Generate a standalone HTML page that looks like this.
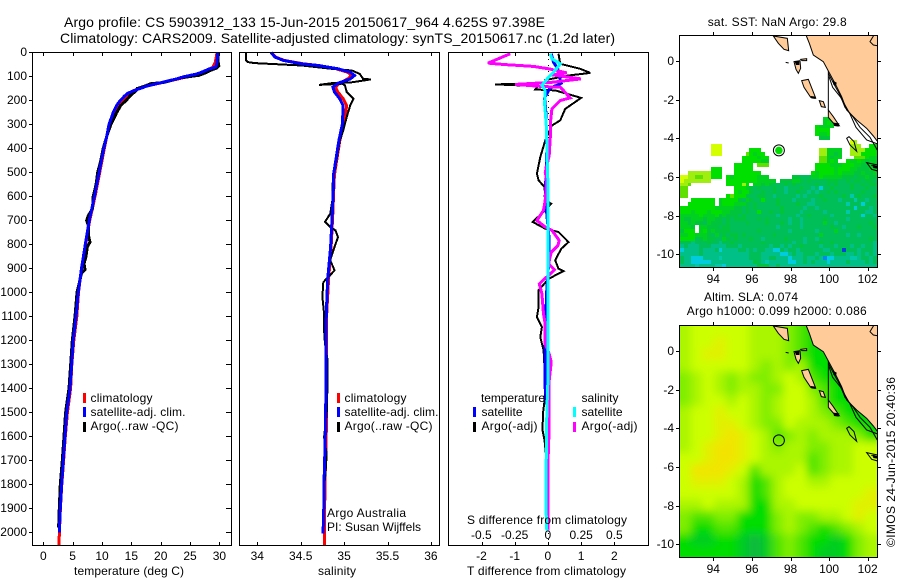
<!DOCTYPE html>
<html lang="en">
<head>
<meta charset="utf-8">
<title>Argo profile CS 5903912_133</title>
<style>
html,body{margin:0;padding:0;background:#fff;}
svg{display:block;}
text{font-family:"Liberation Sans",sans-serif;fill:#000;font-size:12px;}
.title{font-size:14px;}
.frame{fill:none;stroke:#000;stroke-width:1;shape-rendering:crispEdges;}
.tick{stroke:#000;stroke-width:1;shape-rendering:crispEdges;}
.land{fill:#ffcc99;stroke:#000;stroke-width:3;}
.contour{fill:none;stroke:#000;stroke-width:3;}
.blob{fill:#000;stroke:none;}
.bar{shape-rendering:crispEdges;}
</style>
</head>
<body>
<svg id="chart" xmlns="http://www.w3.org/2000/svg" width="900" height="580" viewBox="0 0 900 580">
<defs>
<clipPath id="clip-sst"><rect x="679.5" y="35.5" width="198" height="232"/></clipPath>
<clipPath id="clip-sla"><rect x="679.5" y="325.5" width="198" height="232"/></clipPath>
<filter id="smooth" x="-10%" y="-10%" width="120%" height="120%"><feGaussianBlur stdDeviation="4.5"/></filter>
<g id="coast-shapes" transform="translate(650 10) scale(0.33333)">
<path class="land" d="M468 75L478 100L490 135L520 155L535 183L555 220L575 260L590 300L620 330L650 355L670 378L683 395L686 75Z"/>
<path class="land" d="M370 78L412 85L416 122L402 118L385 100Z"/>
<path class="land" d="M660 95L672 75L686 75L686 108L670 105Z"/>
<path class="land" d="M455 212L475 208L497 264L482 262L462 232Z"/>
<path class="land" d="M508 272L520 275L526 292L514 290Z"/>
<path class="land" d="M535 300L550 320L568 347L555 345L535 322Z"/>
<path class="land" d="M432 155L450 152L452 175L445 190L438 178Z"/>
<path class="land" d="M452 148L470 146L470 152L456 152Z"/>
<path class="contour" d="M407 157L416 159"/>
<path class="contour" d="M535 183L535 300"/>
<path class="contour" d="M535 190L555 228L570 255L585 292L610 322L630 352L660 382L683 422"/>
<path class="contour" d="M537 200L548 232L572 262L600 312L618 352L650 390L683 402"/>
<path class="contour" d="M590 385L600 405L620 424L612 395L597 380Z"/>
<path class="contour" d="M650 458L683 465L683 483L665 478Z"/>
<path class="contour" d="M664 466L680 472"/>
<path class="blob" d="M550 338L568 340L566 350L552 348Z"/>
<path class="blob" d="M482 258L497 260L497 267L484 265Z"/>
<path class="blob" d="M434 155L448 153L448 165L438 165Z"/>
<path class="blob" d="M668 464L682 468L682 476L670 474Z"/>
<path class="blob" d="M548 212L560 218L558 228L550 224Z"/>
</g>
</defs>

<rect x="0" y="0" width="900" height="580" fill="#fff"/>

<text class="title" x="64" y="27" textLength="481" lengthAdjust="spacing">Argo profile: CS 5903912_133 15-Jun-2015 20150617_964 4.625S 97.398E</text>
<text class="title" x="60" y="43" textLength="555" lengthAdjust="spacing">Climatology: CARS2009. Satellite-adjusted climatology: synTS_20150617.nc (1.2d later)</text>

<g id="sst-cells" clip-path="url(#clip-sst)"></g>
<g clip-path="url(#clip-sla)"><g id="sla-cells" filter="url(#smooth)"></g></g>
<g clip-path="url(#clip-sst)"><use href="#coast-shapes"/></g>
<g clip-path="url(#clip-sla)"><use href="#coast-shapes" y="290"/></g>

<g id="ticks"></g>
<g id="series"></g>

<rect class="frame" x="32.5" y="52.5" width="199" height="493"/>
<rect class="frame" x="239.5" y="52.5" width="200" height="493"/>
<rect class="frame" x="448.5" y="52.5" width="200" height="493"/>
<rect class="frame" x="679.5" y="35.5" width="198" height="232"/>
<rect class="frame" x="679.5" y="325.5" width="198" height="232"/>

<g>
<rect class="bar" x="83" y="393" width="3" height="10" fill="#f00"/>
<rect class="bar" x="83" y="407" width="3" height="10" fill="#00f"/>
<rect class="bar" x="83" y="422" width="3" height="10" fill="#000"/>
<text x="90.5" y="402" textLength="62">climatology</text>
<text x="90.5" y="416" textLength="95">satellite-adj. clim.</text>
<text x="90.5" y="430" textLength="88">Argo(..raw -QC)</text>
</g>
<g>
<rect class="bar" x="337" y="393" width="3" height="10" fill="#f00"/>
<rect class="bar" x="337" y="407" width="3" height="10" fill="#00f"/>
<rect class="bar" x="337" y="422" width="3" height="10" fill="#000"/>
<text x="344.5" y="402" textLength="62">climatology</text>
<text x="344.5" y="416" textLength="94">satellite-adj. clim.</text>
<text x="344.5" y="430" textLength="88">Argo(..raw -QC)</text>
<text x="327" y="517" textLength="79">Argo Australia</text>
<text x="327" y="531" textLength="94">PI: Susan Wijffels</text>
</g>
<g>
<text x="481" y="402" textLength="64">temperature</text>
<text x="581.5" y="402" textLength="37">salinity</text>
<rect class="bar" x="473" y="407" width="3" height="10" fill="#00f"/>
<rect class="bar" x="473" y="422" width="3" height="10" fill="#000"/>
<rect class="bar" x="573" y="407" width="3" height="10" fill="#0ff"/>
<rect class="bar" x="573" y="422" width="3" height="10" fill="#f0f"/>
<text x="481.5" y="416" textLength="41">satellite</text>
<text x="481.5" y="430" textLength="56">Argo(-adj)</text>
<text x="581.5" y="416" textLength="41">satellite</text>
<text x="581.5" y="430" textLength="56">Argo(-adj)</text>
</g>

<text x="74" y="575" textLength="110">temperature (deg C)</text>
<text x="318" y="575" textLength="38">salinity</text>
<text x="467" y="575" textLength="159">T difference from climatology</text>
<text x="467" y="524" textLength="160">S difference from climatology</text>

<text x="707.7" y="26" textLength="139">sat. SST: NaN  Argo: 29.8</text>
<text x="704" y="301" textLength="94">Altim. SLA: 0.074</text>
<text x="686.7" y="315" textLength="180">Argo h1000: 0.099 h2000: 0.086</text>
<text transform="rotate(-90 895 547)" x="895" y="547" textLength="170">©IMOS 24-Jun-2015 20:40:36</text>

<g id="markers"></g>
</svg>

<script>
// ---- profile data ----
const depthTickValues = [0,100,200,300,400,500,600,700,800,900,1000,1100,1200,1300,1400,1500,1600,1700,1800,1900,2000];
const temperatureTicks = [0,5,10,15,20,25,30];
const salinityTicks = [34,34.5,35,35.5,36];
const salinityTickLabels = ['34','34.5','35','35.5','36'];
const tDiffTicks = [-2,-1,0,1,2];
const sDiffTicks = [-0.5,-0.25,0,0.25,0.5];
const sDiffTickLabels = ['-0.5','-0.25','0','0.25','0.5'];
const lonTicks = [94,96,98,100,102];
const latTicks = [0,-2,-4,-6,-8,-10];

const tempDepths = [0,40,60,70,80,90,100,110,120,130,140,150,160,170,180,200,220,250,300,350,400,500,600,700,800,900,1000,1100,1200,1300,1400,1500,1600,1700,1800,1900,2000,2054];
const tempClim = [29.6,29.3,28.9,28.4,27.5,26.4,24.7,23.0,21.2,19.4,17.6,16.4,15.3,14.6,14.2,13.4,12.7,11.9,11.2,10.8,10.4,9.6,8.8,7.9,7.2,6.5,6.0,5.7,5.2,4.85,4.65,4.1,3.75,3.45,3.15,2.92,2.75,2.66];
const tempSat = [29.7,29.6,29.4,28.1,27.2,26.1,24.1,22.7,21,19.3,17.6,16.5,15.3,14.4,13.9,13.1,12.5,11.9,11.2,10.8,10.3,9.5,8.7,7.84,7.16,6.5,5.97,5.57,5.1,4.83,4.55,3.98,3.7,3.41,3.13,2.9,2.73,null];
const tempArgoDepths = [0,40,55,65,75,85,95,105,115,125,130,140,150,157,180,200,220,250,300,350,400,450,500,550,600,650,680,700,720,760,790,810,850,880,905,920,960,1000,1100,1200,1300,1400,1500,1600,1700,1800,1900,1980];
const tempArgo = [29.7,29.8,29.9,29.5,28.4,27.6,26.5,23.5,22.0,20.5,18.3,17.3,16.0,15.9,14.8,14.1,13.2,12.5,11.5,10.8,10.2,9.8,9.26,9,8.5,8.4,7.67,7.4,7.67,7.67,7.95,7.5,7.27,6.93,7.1,6.5,6.14,5.74,5.4,4.94,4.67,4.38,3.8,3.53,3.24,2.9,2.73,2.6];

const salDepths = [0,19,33,47,54,68,82,96,110,128,144,165,193,221,297,367,436,505,533,672,811,950,1089,1228,1367,1506,1645,1783,1922,2005,2054];
const salClim = [34.16,34.21,34.31,34.53,34.71,34.91,35.04,35.09,35.04,34.95,34.90,34.93,34.99,35.03,35.00,34.95,34.92,34.89,34.885,34.87,34.85,34.82,34.80,34.80,34.80,34.80,34.79,34.78,34.775,34.772,34.772];
const salSat = [34.158,34.204,34.30,34.51,34.70,34.93,35.07,35.12,35.07,34.93,34.87,34.89,34.95,34.99,34.98,34.94,34.91,34.88,34.88,34.864,34.845,34.81,34.795,34.79,34.79,34.788,34.78,34.77,34.765,34.757,null];
const salArgoDepths = [0,33,40,44,47,54,68,75,89,110,112,124,128,135,130,137,165,193,221,269,325,367,478,533,616,672,706,727,741,769,825,866,908,957,1019,1089,1158,1214,1283,1367,1506,1603,1673,1783];
const salArgo = [33.87,33.87,33.89,33.97,34.13,34.51,34.857,35.09,35.18,35.22,35.31,35.09,34.857,34.71,34.98,35.01,35.03,35.11,35.07,35.03,34.99,34.95,34.9,34.87,34.865,34.84,34.78,34.84,34.9,34.93,34.875,34.84,34.89,34.76,34.75,34.77,34.77,34.78,34.81,34.81,34.80,34.77,34.80,34.78];

const dSArgoDepths = [5,44,50,58,68,85,93,110,124,133,142,144,189,200,235,297,353,429,499,533,616,658,700,727,741,783,804,832,880,905,922,943,964,1005,1089,1130,1214,1255,1290,1367,1436,1561,1714,1853,1992];
const dSArgo = [-0.283,-0.45,-0.333,-0.108,0.005,0.143,0.03,0.248,0.03,-0.245,-0.033,0.093,0.168,0.093,0.03,0.018,0.018,0.01,-0.02,-0.008,-0.02,-0.033,-0.083,-0.02,0.03,0.085,0.075,0.025,0.005,0.05,0.018,-0.025,-0.065,-0.045,-0.033,-0.02,-0.02,0.01,0.025,0.01,0.01,0.01,0,0,0];
const dTArgoDepths = [5,47,68,85,96,115,128,133,140,154,158,189,235,283,304,367,436,505,533,561,616,630,658,706,734,748,790,818,866,901,911,943,991,1061,1103,1144,1186,1241,1367,1450,1506,1575,1617,1673];
const dTArgo = [0.32,0.37,0.97,1.28,0.62,-0.08,-0.08,-1.6,-0.3,-0.38,0.22,1.0,0.52,0.37,0.12,-0.08,-0.23,-0.33,-0.28,-0.10,-0.08,0.1,-0.08,-0.46,-0.08,0.32,0.62,0.40,0.22,0.32,0.47,0.02,-0.28,-0.28,-0.33,-0.18,-0.23,-0.13,-0.08,-0.1,-0.15,-0.16,-0.1,-0.06];
const dTSatDepths = [5,40,70,100,128,150,190,250,400,600,780,850,1000,1200,1400,1570,1780,1992];
const dTSat = [0.1,0.17,0.3,0.35,0.4,0.05,-0.1,-0.06,-0.03,-0.08,0.04,0.04,-0.04,-0.08,-0.08,0.04,-0.03,0];
const dSSatDepths = [5,26,47,82,103,137,158,214,297,367,505,533,1367,1506,1714,1922,1992];
const dSSat = [0.018,0.03,0.093,0.043,0.005,-0.045,-0.02,-0.025,-0.013,-0.008,-0.003,0,0,-0.008,-0.013,-0.013,-0.008];

// ---- map data (one character per cell; '.' = no data) ----
const sstLevelColors = {a:'#d4ff00',b:'#a0ee10',c:'#60e000',d:'#00e000',e:'#00d020',f:'#00c43c',g:'#00bf58',h:'#00c088',i:'#00c8a8',j:'#00ccdd',k:'#0088ee',l:'#0044dd'};
const sstRows = [
".....................................eee",
".....................................ede",
"...................................deeee",
"...................................dddd",
"...................................deed",
"....................................fff",
"............................................ab",
"........aaa.................................bbb..dd",
"........aaa.......ddd...............bbeeee..bbbbddd",
"........aaa......cdedd..............bbeefe..bbbdddd",
"................ddddedd.............ccefee...cccdee",
"................dddddee.............ccede..deedefee",
"..............ddddd.ccc............ddddeeedddeeffee",
"........ddd...ddddd................dddddedddeefffee",
"..bbbbbbddd...ddddddd.............deddddedeeeffeffe",
"aabbccbbddd.deddddddeee......ffgggeedeeeeefffgffeff",
"abbbbbbb....ddddddddeeeee.fffeefgfggggfffggfgffgffg",
"bbc.........ddddbd.eefefgggfgfgggggfggfgfgggfggfgff",
"cc............dddefgfgggfgghgggfgghgjggfggggfgggfgg",
"cc............deddfggfggfgghggfgghghggfgfggggggfggg",
"cc..........dcdddfggffgghggggghghgggfgggggfgigfgggf",
"...dddddd.eddddfgefggdgggfggghgggghggfggghgggigghgg",
"..ddddddd.edddeeefgfgggggfggggfgghhggggggggigggjggg",
"dddddddddeeeeeffgfgfggggggfggggghgghgggggggggjggghg",
"dddedddedddeefffgfggdggfggfgggghggggghgggggigggghhg",
"eeeeedeeedfefffgfgggggggghgggghggfggggghgggggggjggh",
"effeeefeeffgfgfffgggfgfggggghgghgggggfggggghggggggg",
"eefeffgefffgfggggfggggfgggfghgghgggggegghggggggggfg",
"eeef.eefffgffgggggggggggghggggghgggggggfgghgggfgggf",
"fddd.edfeffffgggggggfggggggghgggggghggggegggggggggg",
"eeddeeefgegfgffgfgggggggfgggggggggggegggggghgghgggg",
"ddddgfeffggefgfgggfgghgggggfgggghgghgggggggggggggfg",
"ggghgggfgghggfgggggggfggggggghgghgggfggfggggggggggh",
"hghhhggghhhhggghggggggghgghghggfgggghggghggghgghggh",
"jhhhhghhhgjhhhhgghghgghhjjghgghgggggghhggglggghgggh",
"hhhhhghhhhhhhhhhhhggghhhhhjjhghhggghggghggghhghghgh",
"ghhjjjhhhhihhhhhhhggghhgghhhjhhhghhghkjjhhhhiihgghg",
"ghhjjjjjhhhhhhhhhhhfghihhhhhjjhhghghhhjhhhhghhhhghg",
"hhhhihhhhiijhhhhhhhhfffhhghhhhhhhhhhhhhhhhhhhhhhhhh"
];
const sstOriginLon = 92.27;
const sstOriginLat = -2.89;
const sstCellDeg = 0.2;

const slaLevelColors = {a:'#f2e400',b:'#e2f000',c:'#ccff00',d:'#aaf500',e:'#80ee00',f:'#50e400',g:'#00dd00',h:'#00cc20',i:'#10b840'};
const slaRows = [
"dcccccdddefgggggg",
"dccbccdddefgggggg",
"dcbbccdddefgggggg",
"dcccccdededgggggg",
"edcdedeedcdfggggg",
"edcdeddeeccefgggg",
"edccdcdedccdfgggg",
"dccbccdedccdefggg",
"dccbbcdeecdddefgg",
"dccbabcdfededddeg",
"dcbaabcdeddeeddcc",
"ccbaabcddddfeddcc",
"caaabcfdddcfeddcc",
"cbbbcdgfdccddcccc",
"cccccdgfdcccccccb",
"ddcdddggddcccccbb",
"effeegggedeeddcbc",
"eggffgggedefgfedc",
"ghhgghihfefgghged",
"ggggghihfefghhged"
];
const slaOriginLon = 92.24;
const slaOriginLat = 1.34;
const slaCellDeg = 0.6;

const argoLon = 97.398;
const argoLat = -4.625;

// ---- axis functions ----
const depthY = d => 52.5 + 0.24 * d;
const tempX = t => 43.3 + 5.87 * t;
const salX = s => 257.3 + 86.8 * (s - 34);
const dTX = v => 547.9 + 33.2 * v;
const dSX = v => 547.9 + 133 * v;
const lonX = lon => 713.3 + 19.3 * (lon - 94);
const sstLatY = lat => 61 - 19.33 * lat;
const slaLatY = lat => 351 - 19.33 * lat;

const NS = 'http://www.w3.org/2000/svg';
const tickLayer = document.getElementById('ticks');
const seriesLayer = document.getElementById('series');

function tickLine(x1, y1, x2, y2) {
  const el = document.createElementNS(NS, 'line');
  
  
  el.setAttribute('class', 'tick');
  el.setAttribute('x1', x1); el.setAttribute('y1', y1);
  el.setAttribute('x2', x2); el.setAttribute('y2', y2);
  tickLayer.appendChild(el);
}
function tickLabel(x, y, anchor, str) {
  const el = document.createElementNS(NS, 'text');
  
  
  el.setAttribute('x', x); el.setAttribute('y', y);
  el.setAttribute('text-anchor', anchor);
  el.textContent = str;
  tickLayer.appendChild(el);
}
function seriesLine(name, xFn, depths, values, color, width) {
  let d = '';
  values.forEach((v, i) => {
    if (v === null) return;
    d += (d ? 'L' : 'M') + xFn(v).toFixed(1) + ' ' + depthY(depths[i]).toFixed(1);
  });
  const el = document.createElementNS(NS, 'path');
  
  
  el.setAttribute('d', d);
  el.setAttribute('fill', 'none');
  el.setAttribute('stroke', color);
  el.setAttribute('stroke-width', width);
  el.setAttribute('shape-rendering', 'crispEdges');
  seriesLayer.appendChild(el);
}

// depth axis
depthTickValues.forEach(d => {
  const y = Math.round(depthY(d) - 0.5) + 0.5;
  tickLine(29, y, 32.5, y);
  tickLine(226, y, 231.5, y);
  tickLabel(27, y + 3.5, 'end', String(d));
});
// temperature axis
temperatureTicks.forEach(t => {
  const x = Math.round(tempX(t)) + 0.5;
  tickLine(x, 52.5, x, 56);
  tickLine(x, 542, x, 545.5);
  tickLabel(tempX(t), 560, 'middle', String(t));
});
// salinity axis
salinityTicks.forEach((s, i) => {
  const x = Math.round(salX(s)) + 0.5;
  tickLine(x, 52.5, x, 56);
  tickLine(x, 542, x, 545.5);
  tickLabel(salX(s), 560, 'middle', salinityTickLabels[i]);
});
// difference axes
tDiffTicks.forEach(v => {
  const x = Math.round(dTX(v)) + 0.5;
  tickLine(x, 52.5, x, 56);
  tickLine(x, 542, x, 545.5);
  tickLabel(dTX(v), 560, 'middle', String(v));
});
sDiffTicks.forEach((v, i) => {
  tickLabel(dSX(v), 539, 'middle', sDiffTickLabels[i]);
});
// map axes
lonTicks.forEach(lon => {
  const x = Math.round(lonX(lon)) + 0.5;
  tickLine(x, 32, x, 35.5);
  tickLine(x, 267.5, x, 271);
  tickLine(x, 322, x, 325.5);
  tickLine(x, 557.5, x, 561);
  tickLabel(lonX(lon), 283, 'middle', String(lon));
  tickLabel(lonX(lon), 573, 'middle', String(lon));
});
latTicks.forEach(lat => {
  const y1 = Math.round(sstLatY(lat)) + 0.5;
  const y2 = Math.round(slaLatY(lat)) + 0.5;
  tickLine(676, y1, 679.5, y1);
  tickLine(877.5, y1, 881, y1);
  tickLine(676, y2, 679.5, y2);
  tickLine(877.5, y2, 881, y2);
  tickLabel(674, y1 + 3.5, 'end', String(lat));
  tickLabel(674, y2 + 3.5, 'end', String(lat));
});

// temperature profiles
seriesLine('temperature-climatology-line', tempX, tempDepths, tempClim, '#f00', 3);
seriesLine('temperature-argo-line', tempX, tempArgoDepths, tempArgo, '#000', 3);
seriesLine('temperature-satellite-line', tempX, tempDepths, tempSat, '#00f', 3);
// salinity profiles
seriesLine('salinity-climatology-line', salX, salDepths, salClim, '#f00', 3);
seriesLine('salinity-argo-line', salX, salArgoDepths, salArgo, '#000', 2);
seriesLine('salinity-satellite-line', salX, salDepths, salSat, '#00f', 3);

// zero reference in difference panel
const zeroLine = document.createElementNS(NS, 'line');


zeroLine.setAttribute('x1', Math.round(dTX(0)) + 0.5);
zeroLine.setAttribute('x2', Math.round(dTX(0)) + 0.5);
zeroLine.setAttribute('y1', 53);
zeroLine.setAttribute('y2', 545);
zeroLine.setAttribute('stroke', '#000');
zeroLine.setAttribute('stroke-width', '1');
zeroLine.setAttribute('stroke-dasharray', '1 5');
zeroLine.setAttribute('shape-rendering', 'crispEdges');
seriesLayer.appendChild(zeroLine);

// difference profiles
seriesLine('t-difference-argo-line', dTX, dTArgoDepths, dTArgo, '#000', 2);
seriesLine('t-difference-satellite-line', dTX, dTSatDepths, dTSat, '#00f', 3);
seriesLine('s-difference-argo-line', dSX, dSArgoDepths, dSArgo, '#f0f', 3);
seriesLine('s-difference-satellite-line', dSX, dSSatDepths, dSSat, '#0ff', 3);

// SST heatmap
const sstLayer = document.getElementById('sst-cells');
sstRows.forEach((row, r) => {
  for (let c = 0; c < row.length; c++) {
    const color = sstLevelColors[row[c]];
    if (!color) continue;
    const x0 = lonX(sstOriginLon + c * sstCellDeg);
    const x1 = lonX(sstOriginLon + (c + 1) * sstCellDeg);
    const y0 = sstLatY(sstOriginLat - r * sstCellDeg);
    const y1 = sstLatY(sstOriginLat - (r + 1) * sstCellDeg);
    const el = document.createElementNS(NS, 'rect');
    
    
    el.setAttribute('x', Math.round(x0));
    el.setAttribute('y', Math.round(y0));
    el.setAttribute('width', Math.round(x1) - Math.round(x0));
    el.setAttribute('height', Math.round(y1) - Math.round(y0));
    el.setAttribute('fill', color);
    el.setAttribute('shape-rendering', 'crispEdges');
    sstLayer.appendChild(el);
  }
});

// SLA heatmap
const slaLayer = document.getElementById('sla-cells');
slaRows.forEach((row, r) => {
  for (let c = 0; c < row.length; c++) {
    const x0 = lonX(slaOriginLon + c * slaCellDeg);
    const x1 = lonX(slaOriginLon + (c + 1) * slaCellDeg);
    const y0 = slaLatY(slaOriginLat - r * slaCellDeg);
    const y1 = slaLatY(slaOriginLat - (r + 1) * slaCellDeg);
    // edge cells overshoot the clip so the smoothing does not fade at the frame
    const left = c === 0 ? x0 - 30 : x0;
    const right = c === row.length - 1 ? x1 + 30 : x1;
    const top = r === 0 ? y0 - 30 : y0;
    const bottom = r === slaRows.length - 1 ? y1 + 30 : y1;
    const el = document.createElementNS(NS, 'rect');
    
    
    el.setAttribute('x', left);
    el.setAttribute('y', top);
    el.setAttribute('width', right - left + 0.5);
    el.setAttribute('height', bottom - top + 0.5);
    el.setAttribute('fill', slaLevelColors[row[c]]);
    slaLayer.appendChild(el);
  }
});

// Argo position markers
const markerLayer = document.getElementById('markers');
const sstDot = document.createElementNS(NS, 'circle');


sstDot.setAttribute('cx', lonX(argoLon));
sstDot.setAttribute('cy', sstLatY(argoLat));
sstDot.setAttribute('r', 3.8);
sstDot.setAttribute('fill', '#00dd00');
markerLayer.appendChild(sstDot);
const sstRing = document.createElementNS(NS, 'circle');


sstRing.setAttribute('cx', lonX(argoLon));
sstRing.setAttribute('cy', sstLatY(argoLat));
sstRing.setAttribute('r', 5.5);
sstRing.setAttribute('fill', 'none');
sstRing.setAttribute('stroke', '#000');
sstRing.setAttribute('stroke-width', '1');
markerLayer.appendChild(sstRing);
const slaRing = document.createElementNS(NS, 'circle');


slaRing.setAttribute('cx', lonX(argoLon));
slaRing.setAttribute('cy', slaLatY(argoLat));
slaRing.setAttribute('r', 5.5);
slaRing.setAttribute('fill', 'none');
slaRing.setAttribute('stroke', '#000');
slaRing.setAttribute('stroke-width', '1');
markerLayer.appendChild(slaRing);
</script>
</body>
</html>
